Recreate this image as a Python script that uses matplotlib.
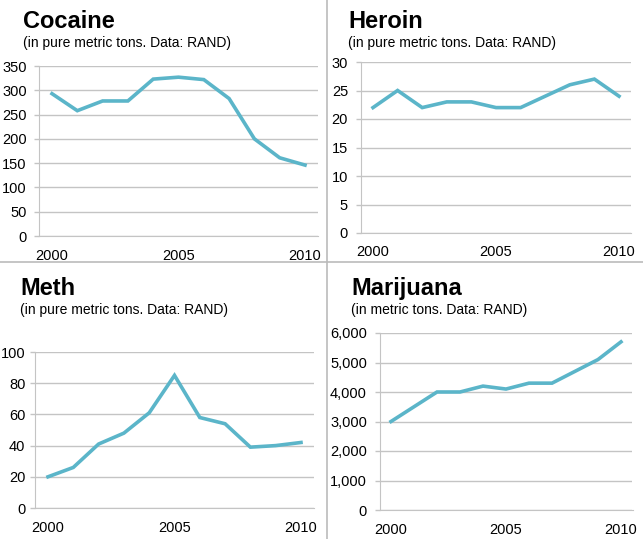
import matplotlib
matplotlib.use("Agg")
import matplotlib.pyplot as plt
from matplotlib.lines import Line2D
from matplotlib.ticker import FuncFormatter

plt.rcParams['font.family'] = ['Liberation Sans', 'DejaVu Sans']

# ========== DATA ==========
years = list(range(2000, 2011))
cocaine = [293, 258, 278, 278, 323, 327, 322, 283, 200, 161, 146]
heroin = [22, 25, 22, 23, 23, 22, 22, 24, 26, 27, 24]
meth = [20, 26, 41, 48, 61, 85, 58, 54, 39, 40, 42]
marijuana = [3000, 3500, 4000, 4000, 4200, 4100, 4300, 4300, 4700, 5100, 5700]

titles = ['Cocaine', 'Heroin', 'Meth', 'Marijuana']
subtitles = ['(in pure metric tons. Data: RAND)',
             '(in pure metric tons. Data: RAND)',
             '(in pure metric tons. Data: RAND)',
             '(in metric tons. Data: RAND)']
yticks = [list(range(0, 351, 50)), list(range(0, 31, 5)),
          list(range(0, 101, 20)), list(range(0, 6001, 1000))]
series = [cocaine, heroin, meth, marijuana]

LINE = '#5BB5C9'
GRID = '#C4C4C4'
W, H = 643, 539

# pixel layout: x of 2000, x of 2010, y of top tick, y of zero, title x, title baseline, label pad
layout = [
    (52, 305, 66, 236, 23, 28, 5.5),
    (373, 619, 62, 233, 348, 28, 5.5),
    (48, 301, 352, 508, 20, 295, 3.5),
    (391, 621, 333, 510, 351, 295, 5.5),
]

fig = plt.figure(figsize=(W / 100, H / 100), dpi=100)

for i in range(4):
    x0, x1, yt, yb, tx, ty, pad = layout[i]
    step = (x1 - x0) / 10
    left = x0 - 0.5 * step
    right = x1 + 0.5 * step
    ax = fig.add_axes([left / W, 1 - yb / H, (right - left) / W, (yb - yt) / H])
    ax.plot(years, series[i], color=LINE, lw=2.6, solid_joinstyle='miter', clip_on=False)
    ax.set_xlim(1999.5, 2010.5)
    ax.set_ylim(0, yticks[i][-1])
    ax.set_yticks(yticks[i])
    ax.set_xticks([2000, 2005, 2010])
    if i == 3:
        ax.yaxis.set_major_formatter(FuncFormatter(lambda v, p: f'{int(v):,}'))
    ax.grid(axis='y', color=GRID, lw=1)
    ax.set_axisbelow(True)
    for s in ['top', 'right']:
        ax.spines[s].set_visible(False)
    ax.spines['left'].set_color(GRID)
    ax.spines['bottom'].set_color(GRID)
    ax.tick_params(labelsize=10.5, labelcolor='black')
    ax.tick_params(axis='y', direction='out', length=3.6, width=1, color=GRID, pad=pad)
    ax.tick_params(axis='x', length=0, pad=9)
    fig.text(tx / W, 1 - ty / H, titles[i], fontsize=17, fontweight='bold', va='baseline')
    fig.text(tx / W, 1 - (ty + 19) / H, subtitles[i], fontsize=10, va='baseline')

# panel dividers
fig.add_artist(Line2D([327 / W, 327 / W], [0, 1], color='#BBBBBB', lw=1.2))
fig.add_artist(Line2D([0, 1], [1 - 262 / H, 1 - 262 / H], color='#BBBBBB', lw=1.2))

fig.savefig('out.png', dpi=100)
